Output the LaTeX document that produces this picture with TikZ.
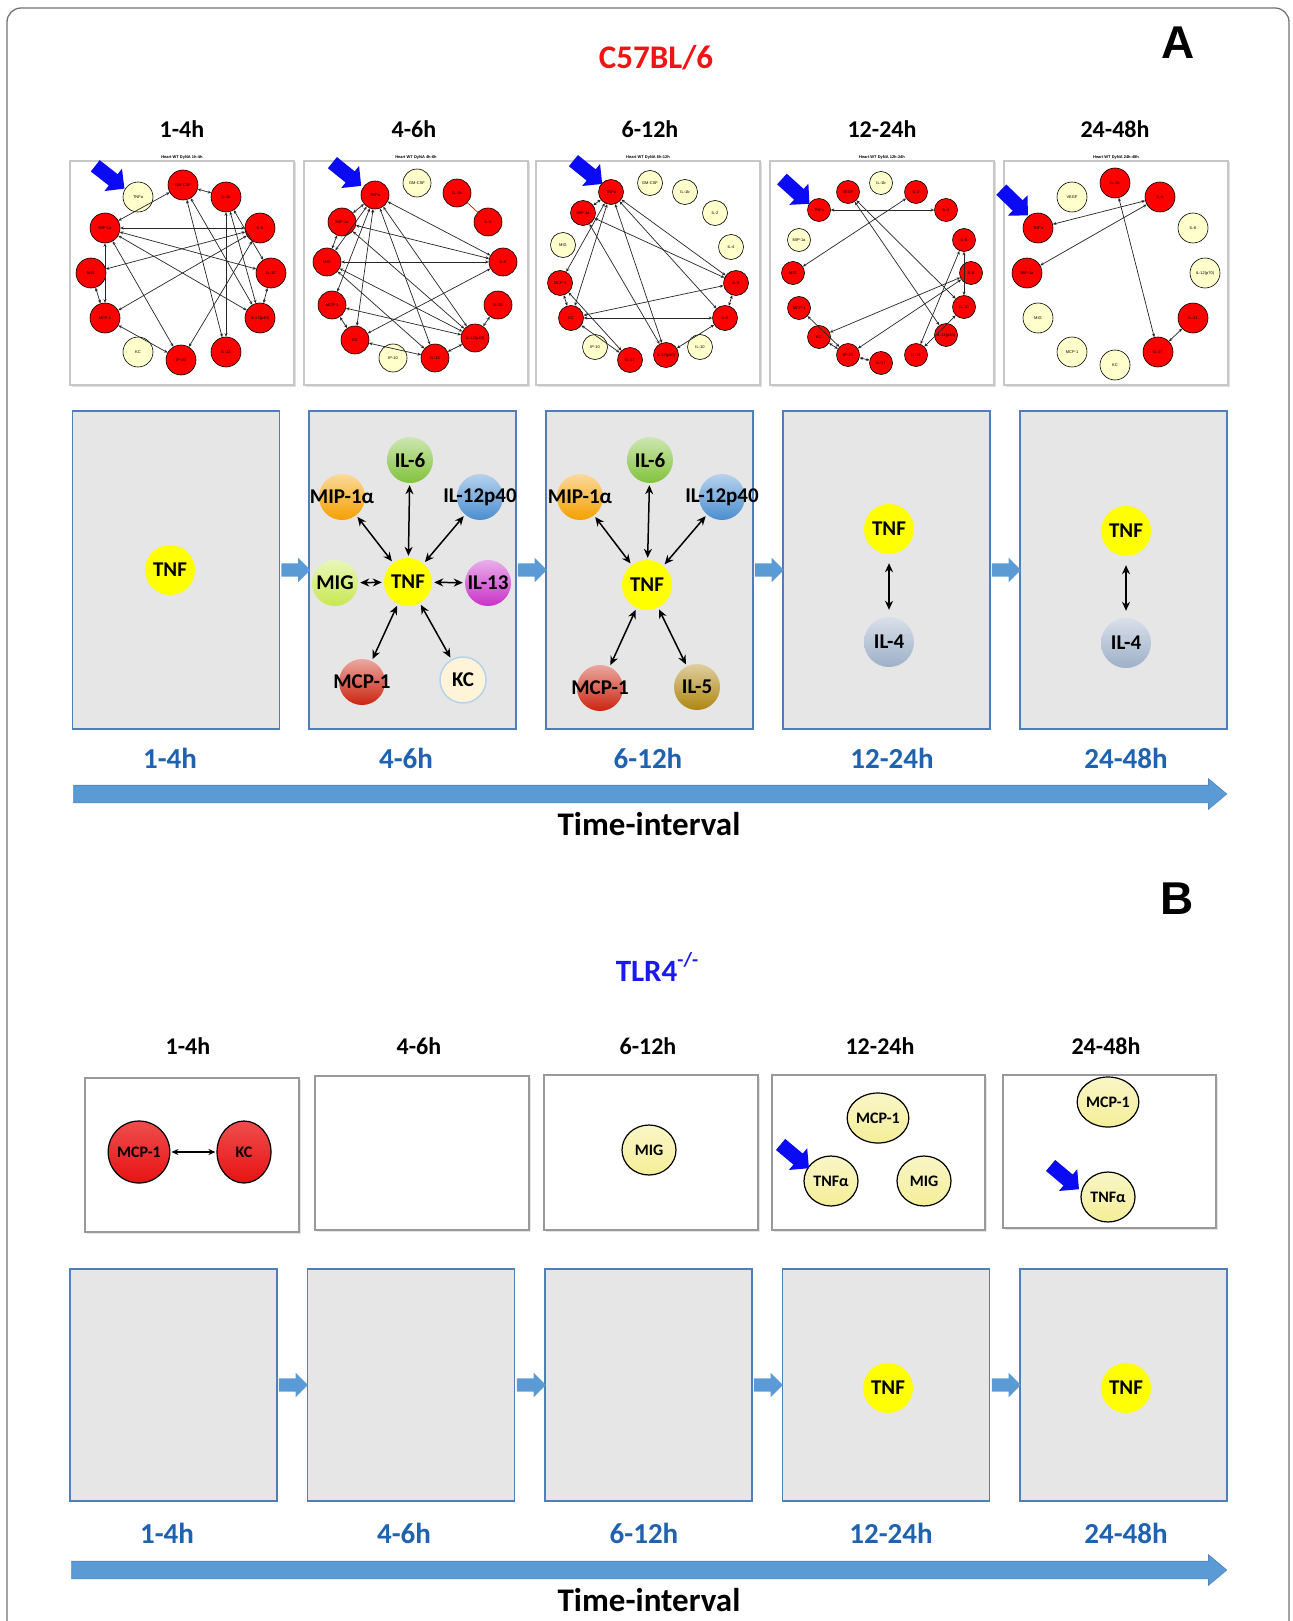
\documentclass[tikz,border=0pt]{standalone}
\usepackage{fontspec}
\setmainfont{Carlito}
\newfontfamily\arialf{Liberation Sans}
\usetikzlibrary{shapes.arrows,shapes.geometric,arrows.meta,shadows}
\newcommand\myfsz[1]{\fontsize{#1}{#1}\selectfont}
\definecolor{netred}{HTML}{FF0000}
\definecolor{netcream}{HTML}{FFFFCC}
\definecolor{titlered}{HTML}{F01414}
\definecolor{tlrblue}{HTML}{1A1AF0}
\definecolor{lblblue}{HTML}{1F62B0}
\definecolor{barblue}{HTML}{5B9BD5}
\definecolor{barline}{HTML}{4A86C2}
\definecolor{boxgray}{HTML}{E6E6E6}
\definecolor{boxline}{HTML}{4F7EBA}
\definecolor{ptr}{HTML}{0A0AF5}
\definecolor{cyel}{HTML}{FFFF00}
\definecolor{cgreen}{HTML}{82C23C}
\definecolor{corange}{HTML}{F5A000}
\definecolor{cblue}{HTML}{4A8ED0}
\definecolor{clime}{HTML}{C8E850}
\definecolor{cmag}{HTML}{C932C9}
\definecolor{cred}{HTML}{CC2410}
\definecolor{ccream}{HTML}{FFF4D8}
\definecolor{cgold}{HTML}{AE8610}
\definecolor{cslate}{HTML}{9EB0C8}
\definecolor{bcream}{HTML}{F4EE98}
\definecolor{bred}{HTML}{E81212}
\begin{document}
\begin{tikzpicture}[x=1pt,y=-1pt,
  netnode/.style={circle, draw=black, line width=0.6pt, minimum size=#1, inner sep=0pt, font=\arialf\myfsz{4}},
  netnode/.default=30pt,
  netedge/.style={{Stealth[length=3.5pt,width=3pt]}-{Stealth[length=3.5pt,width=3pt]}, line width=0.7pt, black!85},
  npanel/.style={draw=black!22, line width=1.2pt, fill=white, minimum width=224pt, minimum height=224pt, inner sep=0pt, drop shadow={shadow xshift=1.5pt, shadow yshift=-1.5pt, opacity=0.25}},
  nettitle/.style={font=\arialf\bfseries\myfsz{4}, inner sep=0pt},
  ptrarrow/.style={single arrow, fill=ptr, draw=none, inner xsep=0pt, inner ysep=7pt, minimum height=37pt, single arrow head extend=7pt, single arrow tip angle=90},
  toplbl/.style={font=\bfseries\myfsz{24}, inner sep=0pt},
  blbl/.style={font=\bfseries\myfsz{29}, text=lblblue, inner sep=0pt},
  tilbl/.style={font=\bfseries\myfsz{33}, inner sep=0pt},
  gbox/.style={draw=boxline, line width=1.2pt, fill=boxgray, minimum width=207pt, inner sep=0pt},
  wbox/.style={draw=black!40, line width=1.2pt, fill=white, inner sep=0pt, drop shadow={shadow xshift=1.5pt, shadow yshift=-1.5pt, opacity=0.2}},
  barrow/.style={single arrow, fill=barblue, draw=none, inner xsep=0pt, inner ysep=6.5pt, minimum height=29pt, single arrow head extend=5.5pt, single arrow tip angle=90},
  bigarrow/.style={single arrow, fill=barblue, draw=barline, line width=0.6pt, inner xsep=0pt, inner ysep=8.5pt, single arrow head extend=6.5pt, single arrow tip angle=80},
  sph/.style={circle, minimum size=46pt, inner sep=0pt, top color=#1!40!white, bottom color=#1},
  tnfball/.style={circle, minimum size=48pt, inner sep=0pt, fill=cyel},
  blab/.style={font=\bfseries\myfsz{21}, inner sep=0pt},
  dbl/.style={{Stealth[length=9pt,width=8pt]}-{Stealth[length=9pt,width=8pt]}, line width=1.5pt, shorten >=2pt, shorten <=2pt},
  bell/.style={ellipse, draw=black, line width=1.2pt, minimum width=54pt, minimum height=50pt, inner sep=0pt, font=\bfseries\myfsz{16}, top color=bcream!55!white, bottom color=bcream},
  rell/.style={ellipse, draw=black, line width=1.2pt, minimum width=54pt, minimum height=62pt, inner sep=0pt, font=\bfseries\myfsz{16}, top color=bred!75!white, bottom color=bred},
  sdbl/.style={{Stealth[length=7pt,width=6pt]}-{Stealth[length=7pt,width=6pt]}, line width=1.2pt, shorten >=1pt, shorten <=1pt}
]
\useasboundingbox (0,0) rectangle (1292,1621);
\fill[white] (0,0) rectangle (1292,1621);
\draw[rounded corners=14pt, draw=black!55, line width=1.3pt] (7,8) rectangle (1289,1660);

% ---------------- Part A -----------------
\node[font=\bfseries\myfsz{33}, text=titlered, inner sep=0pt] (ttlA) at (656,58) {C57BL/6};
\node[font=\arialf\bfseries\myfsz{46}, inner sep=0pt] (letA) at (1178,43) {A};
\foreach \i/\x/\t in {1/182/1-4h, 2/414/4-6h, 3/650/6-12h, 4/882/12-24h, 5/1115/24-48h}
  \node[toplbl] (tA\i) at (\x,129) {\t};

% network panels
\node[npanel] (np1) at (182,273) {};
\node[npanel] (np2) at (416,273) {};
\node[npanel] (np3) at (648,273) {};
\node[npanel] (np4) at (882,273) {};
\node[npanel] (np5) at (1116,273) {};
\node[nettitle] (nt1) at (182,157) {Heart WT DyNA 1h-4h};
\node[nettitle] (nt2) at (416,157) {Heart WT DyNA 4h-6h};
\node[nettitle] (nt3) at (648,157) {Heart WT DyNA 6h-12h};
\node[nettitle] (nt4) at (882,157) {Heart WT DyNA 12h-24h};
\node[nettitle] (nt5) at (1116,157) {Heart WT DyNA 24h-48h};

% panel 1
\foreach \n/\x/\y/\c/\l in {tnf/138/197/netcream/TNFa, gm/183/185/netred/GM-CSF, il1b/226/197/netred/IL-1b, il6/260/228/netred/IL-6, il10/271/273/netred/IL-10, il12/260/318/netred/IL-12(p40), il13/226/352/netred/IL-13, ip10/181/360/netred/IP-10, kc/138/352/netcream/KC, mcp/105/318/netred/MCP-1, mig/91/273/netred/MIG, mip/105/228/netred/MIP-1a}
  \node[netnode=30pt, fill=\c] (p1-\n) at (\x,\y) {\l};
\foreach \a/\b in {gm/mip, gm/il1b, gm/il12, gm/il13, il1b/il10, il1b/il12, il1b/il13, il6/mip, il6/mig, il6/mcp, il6/ip10, mip/il10, mip/il12, mip/ip10, mig/mcp, mcp/ip10, il10/il12, mip/mcp}
  \draw[netedge] (p1-\a) -- (p1-\b);

% panel 2
\foreach \n/\x/\y/\c/\l in {tnf/375/195/netred/TNFa, gm/417/183/netcream/GM-CSF, il1b/457/193/netred/IL-1b, il4/488/222/netred/IL-4, il6/503/262/netred/IL-6, il10/498/305/netred/IL-10, il12/475/338/netred/IL-12(p40), il13/435/358/netred/IL-13, ip10/393/358/netcream/IP-10, kc/355/340/netred/KC, mcp/332/305/netred/MCP-1, mig/327/262/netred/MIG, mip/342/222/netred/MIP-1a}
  \node[netnode=28pt, fill=\c] (p2-\n) at (\x,\y) {\l};
\foreach \a/\b in {tnf/mip, tnf/mig, tnf/mcp, tnf/kc, tnf/il13, tnf/il12, tnf/il6, mip/il6, mip/il12, mip/mig, mig/il6, mig/il12, mig/il13, mcp/kc, kc/il6, kc/il13, il10/il12, il12/il13, mcp/il12}
  \draw[netedge] (p2-\a) -- (p2-\b);
\draw[red, line width=0.7pt] (p2-il1b) -- (p2-il4);

% panel 3
\foreach \n/\x/\y/\c/\l in {tnf/611/192/netred/TNFa, gm/650/183/netcream/GM-CSF, il1b/685/192/netcream/IL-1b, il2/715/213/netcream/IL-2, il4/731/247/netcream/IL-4, il5/736/283/netred/IL-5, il6/725/318/netred/IL-6, il10/700/347/netcream/IL-10, il12/666/355/netred/IL-12(p40), il17/630/360/netred/IL-17, ip10/595/347/netcream/IP-10, kc/571/318/netred/KC, mcp/560/283/netred/MCP-1, mig/563/245/netcream/MIG, mip/583/213/netred/MIP-1a}
  \node[netnode=25pt, fill=\c] (p3-\n) at (\x,\y) {\l};
\foreach \a/\b in {tnf/mip, tnf/mcp, tnf/kc, tnf/il5, tnf/il6, tnf/il12, mip/il5, mip/il12, mcp/kc, mcp/il17, kc/il5, kc/il6, il6/il12, il5/il6, kc/il17}
  \draw[netedge] (p3-\a) -- (p3-\b);

% panel 4
\foreach \n/\x/\y/\c/\l in {tnf/819/210/netred/TNFa, gm/848/192/netred/VEGF, il1b/881/183/netcream/IL-1b, il2/916/192/netred/IL-2, il4/946/210/netred/IL-4, il5/964/240/netred/IL-5, il6/971/273/netred/IL-6, il10/964/307/netred/IL-10, il12/946/335/netred/IL-12(p40), il13/916/355/netred/IL-13, il17/881/363/netred/IL-17, ip10/848/355/netred/IP-10, kc/819/337/netred/KC, mcp/799/308/netred/MCP-1, mig/793/273/netred/MIG, mip/799/240/netcream/MIP-1a}
  \node[netnode=23pt, fill=\c] (p4-\n) at (\x,\y) {\l};
\foreach \a/\b in {tnf/il4, mig/il2, gm/il12, gm/il10, il5/il13, il5/il10, il6/kc, il6/ip10, il10/il13, mcp/ip10, kc/ip10, ip10/il17}
  \draw[netedge] (p4-\a) -- (p4-\b);

% panel 5
\foreach \n/\x/\y/\c/\l in {vegf/1072/197/netcream/VEGF, il1b/1115/183/netred/IL-1b, il4/1160/197/netred/IL-4, il6/1193/228/netcream/IL-6, il12/1205/273/netcream/IL-12(p70), il13/1193/318/netred/IL-13, il17/1158/352/netred/IL-17, kc/1115/365/netcream/KC, mcp/1072/352/netcream/MCP-1, mig/1038/318/netcream/MIG, mip/1027/273/netred/MIP-1a, tnf/1038/228/netred/TNFa}
  \node[netnode=30pt, fill=\c] (p5-\n) at (\x,\y) {\l};
\foreach \a/\b in {il4/tnf, il4/mip, il1b/il17, il13/il17}
  \draw[netedge] (p5-\a) -- (p5-\b);

% blue pointer arrows
\node[ptrarrow, rotate=-38] (pa1) at (107,175) {};
\node[ptrarrow, rotate=-39] (pa2) at (344,172) {};
\node[ptrarrow, rotate=-39] (pa3) at (585,170) {};
\node[ptrarrow, rotate=-42] (pa4) at (793,189) {};
\node[ptrarrow, rotate=-44] (pa5) at (1012,200) {};

% gray boxes A
\node[gbox, minimum height=318pt] (ga1) at (176,570) {};
\node[gbox, minimum height=318pt] (ga2) at (412.5,570) {};
\node[gbox, minimum height=318pt] (ga3) at (649.5,570) {};
\node[gbox, minimum height=318pt] (ga4) at (886.5,570) {};
\node[gbox, minimum height=318pt] (ga5) at (1123.5,570) {};
\node[barrow] (baA1) at (292.5,570) {};
\node[barrow] (baA2) at (529,570) {};
\node[barrow] (baA3) at (766,570) {};
\node[barrow] (baA4) at (1003,570) {};

% box 1
\node[tnfball, minimum size=50pt, label={[blab]center:TNF}] (a1tnf) at (170,570) {};
% box 2
\node[tnfball, label={[blab]center:TNF}] (a2tnf) at (408,582) {};
\node[sph=cgreen, label={[blab]center:IL-6}] (a2il6) at (410,460) {};
\node[sph=corange, label={[blab]center:MIP-1α}] (a2mip) at (342,497) {};
\node[sph=cblue, label={[blab]center:IL-12p40}] (a2il12) at (480,497) {};
\node[sph=clime, label={[blab]center:MIG}] (a2mig) at (335,583) {};
\node[sph=cmag, label={[blab]center:IL-13}] (a2il13) at (488,583) {};
\node[sph=cred, label={[blab]center:MCP-1}] (a2mcp) at (362,682) {};
\node[circle, minimum size=46pt, inner sep=0pt, fill=ccream, draw=cblue!40, line width=1.5pt, label={[blab]center:KC}] (a2kc) at (463,680) {};
\foreach \t in {il6, mip, il12, mig, il13, mcp, kc}
  \draw[dbl] (a2tnf) -- (a2\t);
% box 3
\node[tnfball, minimum size=50pt, label={[blab]center:TNF}] (a3tnf) at (647,585) {};
\node[sph=cgreen, label={[blab]center:IL-6}] (a3il6) at (650,460) {};
\node[sph=corange, label={[blab]center:MIP-1α}] (a3mip) at (580,497) {};
\node[sph=cblue, label={[blab]center:IL-12p40}] (a3il12) at (722,497) {};
\node[sph=cred, label={[blab]center:MCP-1}] (a3mcp) at (600,688) {};
\node[sph=cgold, label={[blab]center:IL-5}] (a3il5) at (697,687) {};
\foreach \t in {il6, mip, il12, mcp, il5}
  \draw[dbl] (a3tnf) -- (a3\t);
% box 4
\node[tnfball, minimum size=50pt, label={[blab]center:TNF}] (a4tnf) at (889,529) {};
\node[sph=cslate, minimum size=50pt, label={[blab]center:IL-4}] (a4il4) at (889,642) {};
\draw[dbl, shorten >=7pt, shorten <=9pt] (a4tnf) -- (a4il4);
% box 5
\node[tnfball, minimum size=50pt, label={[blab]center:TNF}] (a5tnf) at (1126,531) {};
\node[sph=cslate, minimum size=50pt, label={[blab]center:IL-4}] (a5il4) at (1126,643) {};
\draw[dbl, shorten >=7pt, shorten <=9pt] (a5tnf) -- (a5il4);

\foreach \i/\x/\t in {1/170/1-4h, 2/406/4-6h, 3/648/6-12h, 4/892/12-24h, 5/1126/24-48h}
  \node[blbl] (bA\i) at (\x,758) {\t};
\node[bigarrow, minimum height=1153pt] (timeA) at (645,794) {};
\node[tilbl] (tiA) at (649,824) {Time-interval};

% ---------------- Part B -----------------
\node[font=\arialf\bfseries\myfsz{46}, inner sep=0pt] (letB) at (1177,899) {B};
\node[font=\bfseries\myfsz{31}, text=tlrblue, inner sep=0pt] (ttlB) at (657,967) {TLR4\raisebox{0.5em}{\myfsz{20}-/-}};
\foreach \i/\x/\t in {1/188/1-4h, 2/419/4-6h, 3/648/6-12h, 4/880/12-24h, 5/1106/24-48h}
  \node[toplbl] (tB\i) at (\x,1046) {\t};

\node[wbox, minimum width=214pt, minimum height=154pt] (wb1) at (192,1155) {};
\node[wbox, minimum width=214pt, minimum height=154pt] (wb2) at (422,1153) {};
\node[wbox, minimum width=214pt, minimum height=155pt] (wb3) at (651,1152.5) {};
\node[wbox, minimum width=213pt, minimum height=155pt] (wb4) at (878.5,1152.5) {};
\node[wbox, minimum width=213pt, minimum height=153pt] (wb5) at (1109.5,1151.5) {};

\node[rell] (b1mcp) at (139,1152) {MCP-1};
\node[rell] (b1kc) at (244,1152) {KC};
\draw[sdbl] (b1mcp) -- (b1kc);
\node[bell] (b3mig) at (649,1150) {MIG};
\node[bell] (b4mcp) at (878,1118) {MCP-1};
\node[bell] (b4tnf) at (831,1181) {TNFα};
\node[bell] (b4mig) at (924,1181) {MIG};
\node[bell] (b5mcp) at (1108,1102) {MCP-1};
\node[bell] (b5tnf) at (1108,1197) {TNFα};
\node[ptrarrow, rotate=-40] (pb4) at (792,1154) {};
\node[ptrarrow, rotate=-40] (pb5) at (1062,1175) {};

\node[gbox, minimum height=232pt] (gb1) at (173.5,1385) {};
\node[gbox, minimum height=232pt] (gb2) at (411,1385) {};
\node[gbox, minimum height=232pt] (gb3) at (648.5,1385) {};
\node[gbox, minimum height=232pt] (gb4) at (886,1385) {};
\node[gbox, minimum height=232pt] (gb5) at (1123.5,1385) {};
\node[barrow] (baB1) at (290,1385) {};
\node[barrow] (baB2) at (528,1385) {};
\node[barrow] (baB3) at (765,1385) {};
\node[barrow] (baB4) at (1003,1385) {};
\node[tnfball, minimum size=50pt, label={[blab]center:TNF}] (c4tnf) at (888,1388) {};
\node[tnfball, minimum size=50pt, label={[blab]center:TNF}] (c5tnf) at (1126,1388) {};

\foreach \i/\x/\t in {1/167/1-4h, 2/404/4-6h, 3/644/6-12h, 4/891/12-24h, 5/1126/24-48h}
  \node[blbl] (bB\i) at (\x,1533) {\t};
\node[bigarrow, minimum height=1155pt] (timeB) at (644,1570) {};
\node[tilbl] (tiB) at (649,1600) {Time-interval};
\end{tikzpicture}
\end{document}
